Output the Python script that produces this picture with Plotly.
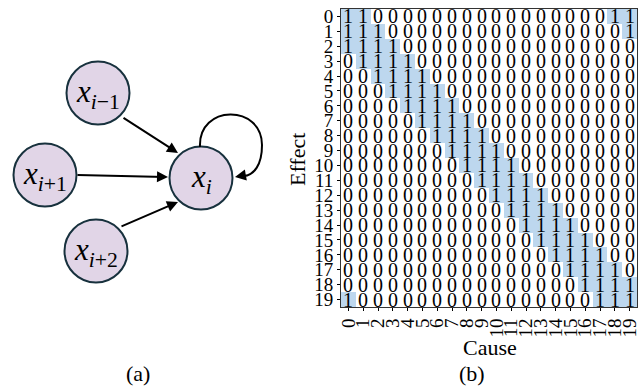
import plotly.graph_objects as go

# ---- data ----
cause_labels = [str(i) for i in range(20)]
effect_labels = [str(i) for i in range(20)]
effect_rows = [
    "11000000000000000011",
    "11100000000000000001",
    "11110000000000000000",
    "01111000000000000000",
    "00111100000000000000",
    "00011110000000000000",
    "00001111000000000000",
    "00000111100000000000",
    "00000011110000000000",
    "00000001111000000000",
    "00000000111100000000",
    "00000000011110000000",
    "00000000001111000000",
    "00000000000111100000",
    "00000000000011110000",
    "00000000000001111000",
    "00000000000000111100",
    "00000000000000011110",
    "00000000000000001111",
    "10000000000000000111",
]
z = [[int(c) for c in row] for row in effect_rows]

node_labels = [
    "<i>x</i><sub><i>i</i>−1</sub>",
    "<i>x</i><sub><i>i</i>+1</sub>",
    "<i>x</i><sub><i>i</i>+2</sub>",
    "<i>x</i><sub><i>i</i></sub>",
]

FONT = "Liberation Serif"
BLUE = "#BDD7EE"
PURPLE = "#E1D5E7"
NODE_EDGE = "#17313D"

fig = go.Figure()

fig.add_trace(go.Heatmap(
    z=z, x=list(range(20)), y=list(range(20)),
    colorscale=[[0, "white"], [1, BLUE]], zmin=0, zmax=1,
    showscale=False, texttemplate="%{z}",
    textfont=dict(family=FONT, size=20, color="black"),
    hoverinfo="skip", xaxis="x", yaxis="y",
))

# ---- left diagram (pixel-like coordinates) ----
nx = [98, 45, 96, 201]
ny = [93, 175, 251, 178]
fig.add_trace(go.Scatter(
    x=nx, y=ny, mode="markers", xaxis="x2", yaxis="y2",
    marker=dict(size=63, color=PURPLE, line=dict(width=2, color=NODE_EDGE)),
    hoverinfo="skip", showlegend=False,
))

annotations = []
for x0, y0, lab in zip(nx, ny, node_labels):
    annotations.append(dict(x=x0, y=y0 + 1, xref="x2", yref="y2", text=lab,
                            xanchor="center", yanchor="middle", showarrow=False,
                            font=dict(family=FONT, size=31, color="black")))

edges = [((122, 117), (178, 153)), ((76, 175), (168, 177)), ((120, 227), (178, 202))]
for (tx, ty), (hx, hy) in edges:
    annotations.append(dict(x=hx, y=hy, ax=tx, ay=ty, xref="x2", yref="y2",
                            axref="x2", ayref="y2", showarrow=True, text="",
                            arrowhead=2, arrowsize=1.1, arrowwidth=2, arrowcolor="black"))
# self-loop arrow head
annotations.append(dict(x=235, y=177, ax=246, ay=175, xref="x2", yref="y2",
                        axref="x2", ayref="y2", showarrow=True, text="",
                        arrowhead=2, arrowsize=1.1, arrowwidth=2, arrowcolor="black"))

shapes = [dict(type="path", xref="x2", yref="y2",
               path="M 200,147 C 198,104 262,104 262,145 C 262,165 254,175 244,176",
               line=dict(color="black", width=2))]

# panel labels
for txt, px in [("(a)", 138), ("(b)", 472)]:
    annotations.append(dict(x=px / 641, y=1 - 373 / 387, xref="paper", yref="paper",
                            xanchor="center", yanchor="middle",
                            text=txt, showarrow=False,
                            font=dict(family=FONT, size=22, color="black")))
# axis titles
annotations.append(dict(x=490 / 641, y=1 - 347 / 387, xref="paper", yref="paper",
                        xanchor="center", yanchor="middle",
                        text="Cause", showarrow=False,
                        font=dict(family=FONT, size=22, color="black")))
annotations.append(dict(x=298 / 641, y=1 - 160 / 387, xref="paper", yref="paper",
                        xanchor="center", yanchor="middle",
                        text="Effect", showarrow=False, textangle=-90,
                        font=dict(family=FONT, size=22, color="black")))

fig.update_layout(
    width=641, height=387, margin=dict(l=0, r=0, t=0, b=0),
    paper_bgcolor="white", plot_bgcolor="white",
    font=dict(family=FONT, color="black"),
    showlegend=False,
    xaxis=dict(domain=[341 / 641, 637 / 641], range=[-0.5, 19.5], automargin=False,
               tickmode="array", tickvals=list(range(20)), ticktext=cause_labels,
               tickangle=-90, ticks="outside", ticklen=3, tickcolor="black",
               tickfont=dict(family=FONT, size=19, color="black"),
               showline=True, linecolor="#333333", linewidth=1, mirror=True,
               showgrid=False, zeroline=False),
    yaxis=dict(domain=[1 - 307 / 387, 1 - 9 / 387], range=[19.5, -0.5], automargin=False,
               tickmode="array", tickvals=list(range(20)), ticktext=effect_labels,
               ticks="outside", ticklen=3, tickcolor="black",
               tickfont=dict(family=FONT, size=19, color="black"),
               showline=True, linecolor="#333333", linewidth=1, mirror=True,
               showgrid=False, zeroline=False),
    xaxis2=dict(domain=[0, 300 / 641], range=[0, 300], visible=False, fixedrange=True),
    yaxis2=dict(domain=[0, 1], range=[387, 0], visible=False, fixedrange=True, anchor="x2"),
    annotations=annotations, shapes=shapes,
)

fig.write_html("out.html", config={"displayModeBar": False},
               post_script="document.body.style.margin='0';document.body.style.overflow='hidden';")
